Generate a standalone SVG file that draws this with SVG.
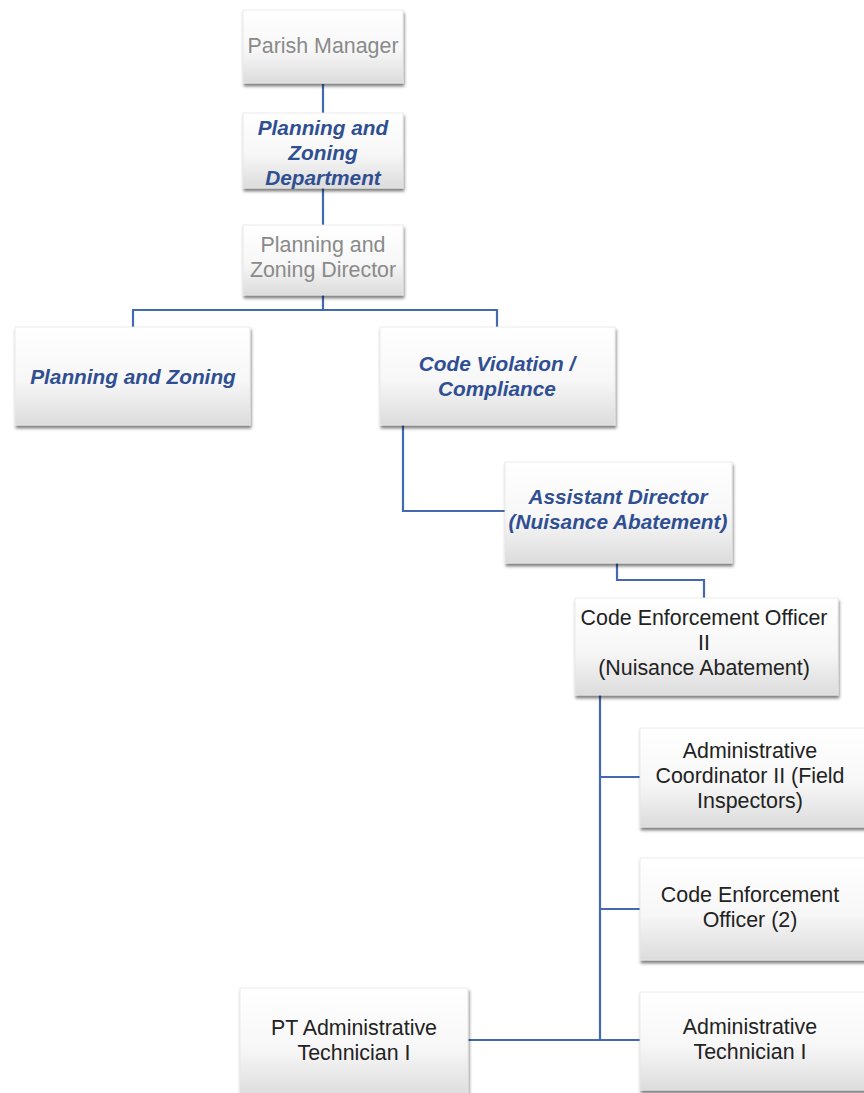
<svg xmlns="http://www.w3.org/2000/svg" width="864" height="1093" viewBox="0 0 864 1093">
  <defs>
    <linearGradient id="boxFill" x1="0" y1="0" x2="0" y2="1">
      <stop offset="0" stop-color="#ffffff"/>
      <stop offset="0.55" stop-color="#f7f7f7"/>
      <stop offset="1" stop-color="#dcdcdc"/>
    </linearGradient>
    <filter id="shadow" x="-10%" y="-10%" width="125%" height="130%">
      <feDropShadow dx="1" dy="3" stdDeviation="1.8" flood-color="#000" flood-opacity="0.5"/>
    </filter>
  </defs>
  <style>
    .box { fill: url(#boxFill); filter: url(#shadow); stroke: #e6e6e6; stroke-width: 0.8; }
    .link { fill: none; stroke: #4469b0; stroke-width: 2.2; }
    text { font-family: "Liberation Sans", Arial, sans-serif; font-size: 21.4px; text-anchor: middle; }
    .grey { fill: #8a8a8a; }
    .blue { fill: #2f4f92; font-weight: bold; font-style: italic; font-size: 20.8px; }
    .dark { fill: #222222; }
  </style>
  <rect width="864" height="1093" fill="#ffffff"/>

  <g id="connectors">
    <path class="link" d="M323 84 V113"/>
    <path class="link" d="M323 188 V225"/>
    <path class="link" d="M323 295 V310 M133 327 V310 H497 V327"/>
    <path class="link" d="M403 425 V511 H505"/>
    <path class="link" d="M617 563 V580 H704 V598"/>
    <path class="link" d="M600 695 V1040 M600 777 H640 M600 909 H640 M468 1040 H640"/>
  </g>

  <g id="parish-manager">
    <rect class="box" x="243" y="10" width="160" height="73"/>
    <text class="grey" x="323" y="53">Parish Manager</text>
  </g>

  <g id="planning-zoning-department">
    <rect class="box" x="243" y="113" width="160" height="75"/>
    <text class="blue" x="323" y="135">Planning and<tspan x="323" dy="25">Zoning</tspan><tspan x="323" dy="25">Department</tspan></text>
  </g>

  <g id="planning-zoning-director">
    <rect class="box" x="243" y="225" width="160" height="70"/>
    <text class="grey" x="323" y="252">Planning and<tspan x="323" dy="25">Zoning Director</tspan></text>
  </g>

  <g id="planning-zoning">
    <rect class="box" x="15" y="327" width="235" height="98"/>
    <text class="blue" x="133" y="384">Planning and Zoning</text>
  </g>

  <g id="code-violation">
    <rect class="box" x="380" y="327" width="235" height="98"/>
    <text class="blue" x="497" y="371">Code Violation /<tspan x="497" dy="25">Compliance</tspan></text>
  </g>

  <g id="assistant-director">
    <rect class="box" x="505" y="462" width="227" height="101"/>
    <text class="blue" x="618" y="504">Assistant Director<tspan x="618" dy="25">(Nuisance Abatement)</tspan></text>
  </g>

  <g id="code-enforcement-officer-ii">
    <rect class="box" x="575" y="598" width="263" height="97"/>
    <text class="dark" x="704" y="625">Code Enforcement Officer<tspan x="704" dy="25">II</tspan><tspan x="704" dy="25">(Nuisance Abatement)</tspan></text>
  </g>

  <g id="administrative-coordinator-ii">
    <rect class="box" x="640" y="728" width="230" height="99"/>
    <text class="dark" x="750" y="758">Administrative<tspan x="750" dy="25">Coordinator II (Field</tspan><tspan x="750" dy="25">Inspectors)</tspan></text>
  </g>

  <g id="code-enforcement-officer">
    <rect class="box" x="640" y="858" width="230" height="102"/>
    <text class="dark" x="750" y="902">Code Enforcement<tspan x="750" dy="25">Officer (2)</tspan></text>
  </g>

  <g id="administrative-technician-i">
    <rect class="box" x="640" y="992" width="230" height="98"/>
    <text class="dark" x="750" y="1034">Administrative<tspan x="750" dy="25">Technician I</tspan></text>
  </g>

  <g id="pt-administrative-technician-i">
    <rect class="box" x="240" y="988" width="228" height="110"/>
    <text class="dark" x="354" y="1035">PT Administrative<tspan x="354" dy="25">Technician I</tspan></text>
  </g>
</svg>
